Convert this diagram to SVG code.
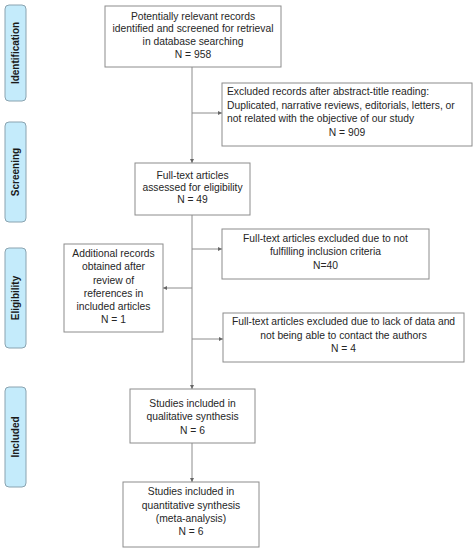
<svg xmlns="http://www.w3.org/2000/svg" width="476" height="550" viewBox="0 0 476 550">
<style>
.box{fill:#fff;stroke:#8c8c8c;stroke-width:1}
.tab{fill:#c4ebfb;stroke:#8aa3b0;stroke-width:1}
.t{font-family:"Liberation Sans",Arial,sans-serif;font-size:10.3px;fill:#262626;text-anchor:middle}
.tl{text-anchor:start}
.tt{font-family:"Liberation Sans",Arial,sans-serif;font-size:10px;font-weight:bold;fill:#1a1a1a;text-anchor:middle}
.c{stroke:#8c8c8c;stroke-width:1;fill:none;marker-end:url(#ah)}
.cn{stroke:#8c8c8c;stroke-width:1;fill:none}
</style>
<defs>
<marker id="ah" markerWidth="4" markerHeight="4" refX="4" refY="2" orient="auto" markerUnits="userSpaceOnUse">
<path d="M0,0 L4,2 L0,4 z" fill="#666"/>
</marker>
</defs>
<rect width="476" height="550" fill="#fff"/>
<g id="tab-identification"><rect class="tab" x="5" y="5" width="21" height="96" rx="4"/><text class="tt" transform="translate(19,53) rotate(-90)">Identification</text></g>
<g id="tab-screening"><rect class="tab" x="5" y="122" width="21" height="100" rx="4"/><text class="tt" transform="translate(19,172) rotate(-90)">Screening</text></g>
<g id="tab-eligibility"><rect class="tab" x="5" y="248" width="21" height="100" rx="4"/><text class="tt" transform="translate(19,298) rotate(-90)">Eligibility</text></g>
<g id="tab-included"><rect class="tab" x="5" y="387" width="21" height="100" rx="4"/><text class="tt" transform="translate(19,437) rotate(-90)">Included</text></g>
<g id="connectors">
<line class="c" x1="192" y1="67" x2="192" y2="163"/>
<line class="c" x1="192" y1="113" x2="222" y2="113"/>
<line class="cn" x1="192" y1="215" x2="192" y2="340"/>
<line class="c" x1="192" y1="340" x2="192" y2="389"/>
<line class="c" x1="192" y1="249" x2="222" y2="249"/>
<line class="c" x1="192" y1="288" x2="163" y2="288"/>
<line class="c" x1="192" y1="339" x2="223" y2="339"/>
<line class="c" x1="192" y1="443" x2="192" y2="482"/>
</g>
<g id="n-records"><rect class="box" x="105" y="6" width="176" height="61"/>
<text class="t" x="193" y="19.5">Potentially relevant records</text>
<text class="t" x="193" y="32.2">identified and screened for retrieval</text>
<text class="t" x="193" y="45">in database searching</text>
<text class="t" x="193" y="57.7">N = 958</text></g>
<g id="n-excluded-abstract"><rect class="box" x="222" y="83" width="250" height="63"/>
<text class="t tl" x="227" y="94.5">Excluded records after abstract-title reading:</text>
<text class="t tl" x="227" y="108.5">Duplicated, narrative reviews, editorials, letters, or</text>
<text class="t tl" x="227" y="122">not related with the objective of our study</text>
<text class="t" x="347" y="135.5">N = 909</text></g>
<g id="n-fulltext"><rect class="box" x="135" y="163" width="115" height="52"/>
<text class="t" x="192.5" y="178.5">Full-text articles</text>
<text class="t" x="192.5" y="190.5">assessed for eligibility</text>
<text class="t" x="192.5" y="202.5">N = 49</text></g>
<g id="n-excluded-criteria"><rect class="box" x="222" y="229" width="207" height="50"/>
<text class="t" x="325.5" y="241.5">Full-text articles excluded due to not</text>
<text class="t" x="325.5" y="255">fulfilling inclusion criteria</text>
<text class="t" x="325.5" y="268.5">N=40</text></g>
<g id="n-additional"><rect class="box" x="64" y="244" width="99" height="88"/>
<text class="t" x="113.5" y="256.5">Additional records</text>
<text class="t" x="113.5" y="270">obtained after</text>
<text class="t" x="113.5" y="283.5">review of</text>
<text class="t" x="113.5" y="296.5">references in</text>
<text class="t" x="113.5" y="310">included articles</text>
<text class="t" x="113.5" y="323">N = 1</text></g>
<g id="n-excluded-data"><rect class="box" x="223" y="313" width="241" height="49"/>
<text class="t" x="343.5" y="325">Full-text articles excluded due to lack of data and</text>
<text class="t" x="343.5" y="338.5">not being able to contact the authors</text>
<text class="t" x="343.5" y="351.5">N = 4</text></g>
<g id="n-qualitative"><rect class="box" x="130" y="389" width="125" height="54"/>
<text class="t" x="192.5" y="406.5">Studies included in</text>
<text class="t" x="192.5" y="420">qualitative synthesis</text>
<text class="t" x="192.5" y="433.5">N = 6</text></g>
<g id="n-quantitative"><rect class="box" x="123" y="482" width="136" height="65"/>
<text class="t" x="191" y="495">Studies included in</text>
<text class="t" x="191" y="508.5">quantitative synthesis</text>
<text class="t" x="191" y="521.5">(meta-analysis)</text>
<text class="t" x="191" y="535">N = 6</text></g>
</svg>
